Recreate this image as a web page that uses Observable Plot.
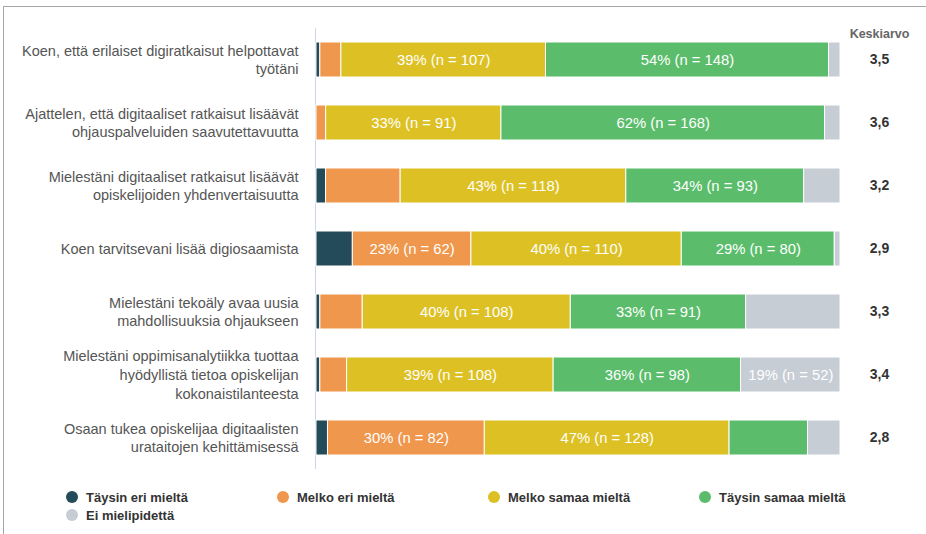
<!DOCTYPE html>
<html>
<head>
<meta charset="utf-8">
<script src="https://cdn.jsdelivr.net/npm/d3@7"></script>
<script src="https://cdn.jsdelivr.net/npm/@observablehq/plot@0.6"></script>
<style>
  html, body { margin: 0; padding: 0; background: #fff; }
  body { width: 926px; height: 534px; position: relative; overflow: hidden; font-family: "Liberation Sans", Arial, sans-serif; }
  #frame { position: absolute; left: 3px; top: 6px; width: 930px; height: 540px; border-top: 1px solid #a6a6a6; border-left: 1px solid #a6a6a6; }
  #chart { position: absolute; left: 0; top: 0; }
  #legend { position: absolute; left: 66px; top: 489px; width: 860px; display: flex; flex-wrap: wrap; row-gap: 2px; }
  .item { width: 211px; display: flex; align-items: center; font-weight: bold; font-size: 13px; color: #333; height: 16px; }
  .sw { width: 12px; height: 12px; border-radius: 50%; margin-right: 8px; flex: none; }
</style>
</head>
<body>
<div id="frame"></div>
<div id="chart"></div>
<div id="legend"></div>
<script>
const categories = [
  "Koen, että erilaiset digiratkaisut helpottavat työtäni",
  "Ajattelen, että digitaaliset ratkaisut lisäävät ohjauspalveluiden saavutettavuutta",
  "Mielestäni digitaaliset ratkaisut lisäävät opiskelijoiden yhdenvertaisuutta",
  "Koen tarvitsevani lisää digiosaamista",
  "Mielestäni tekoäly avaa uusia mahdollisuuksia ohjaukseen",
  "Mielestäni oppimisanalytiikka tuottaa hyödyllistä tietoa opiskelijan kokonaistilanteesta",
  "Osaan tukea opiskelijaa digitaalisten urataitojen kehittämisessä"
];
const tickLabels = [
  "Koen, että erilaiset digiratkaisut helpottavat\ntyötäni",
  "Ajattelen, että digitaaliset ratkaisut lisäävät\nohjauspalveluiden saavutettavuutta",
  "Mielestäni digitaaliset ratkaisut lisäävät\nopiskelijoiden yhdenvertaisuutta",
  "Koen tarvitsevani lisää digiosaamista",
  "Mielestäni tekoäly avaa uusia\nmahdollisuuksia ohjaukseen",
  "Mielestäni oppimisanalytiikka tuottaa\nhyödyllistä tietoa opiskelijan\nkokonaistilanteesta",
  "Osaan tukea opiskelijaa digitaalisten\nurataitojen kehittämisessä"
];
const responses = ["Täysin eri mieltä", "Melko eri mieltä", "Melko samaa mieltä", "Täysin samaa mieltä", "Ei mielipidettä"];
const colors = ["#244b59", "#ef974d", "#ddc124", "#5bbd6b", "#c6cdd5"];

const taysinEri   = [2, 0, 5, 19, 2, 2, 6];
const melkoEri    = [11, 5, 39, 62, 22, 14, 82];
const melkoSamaa  = [107, 91, 118, 110, 108, 108, 128];
const taysinSamaa = [148, 168, 93, 80, 91, 98, 41];
const eiMielip    = [6, 8, 19, 3, 49, 52, 17];
const means = [3.5, 3.6, 3.2, 2.9, 3.3, 3.4, 2.8];

const series = [taysinEri, melkoEri, melkoSamaa, taysinSamaa, eiMielip];
const rows = [];
categories.forEach((cat, i) => {
  const total = series.reduce((s, arr) => s + arr[i], 0);
  responses.forEach((resp, j) => {
    rows.push({cat, resp, n: series[j][i], pct: series[j][i] / total});
  });
});
const catRows = categories.map((cat, i) => ({cat, label: tickLabels[i], mean: means[i]}));

const chart = Plot.plot({
  width: 926,
  height: 475,
  marginLeft: 316,
  marginRight: 86,
  marginTop: 28,
  marginBottom: 6,
  style: {fontFamily: "'Liberation Sans', Arial, sans-serif", fontSize: "13px", background: "transparent"},
  x: {domain: [0, 1], axis: null},
  y: {domain: categories, axis: null, paddingInner: 0.444, paddingOuter: 0.222},
  color: {domain: responses, range: colors},
  marks: [
    Plot.ruleX([0], {stroke: "#ccd6eb", dx: -1}),
    Plot.barX(rows, Plot.stackX({x: "n", y: "cat", fill: "resp", offset: "normalize", order: responses, stroke: "white", strokeWidth: 1})),
    Plot.text(rows, Plot.stackX({x: "n", y: "cat", z: "resp", offset: "normalize", order: responses,
      text: d => d.pct >= 0.185 ? `${Math.round(d.pct * 100)}% (n = ${d.n})` : "",
      fill: "white", fontSize: 14.8})),
    Plot.text(catRows, {y: "cat", frameAnchor: "left", dx: -18, dy: -1, textAnchor: "end", text: "label", fill: "#555", fontSize: 14.5, lineHeight: 1.3}),
    Plot.text(catRows, {y: "cat", frameAnchor: "right", dx: 39, textAnchor: "middle", text: d => d.mean.toFixed(1).replace(".", ","), fill: "#333", fontWeight: "bold", fontSize: 14}),
    Plot.text(["Keskiarvo"], {frameAnchor: "top-right", dx: 39, dy: 1, textAnchor: "middle", text: d => d, fill: "#666", fontWeight: "bold", fontSize: 12.5})
  ]
});
document.getElementById("chart").appendChild(chart);

const legend = document.getElementById("legend");
responses.forEach((r, i) => {
  const it = document.createElement("div");
  it.className = "item";
  const sw = document.createElement("span");
  sw.className = "sw";
  sw.style.background = colors[i];
  it.appendChild(sw);
  it.appendChild(document.createTextNode(r));
  legend.appendChild(it);
});
</script>
</body>
</html>
